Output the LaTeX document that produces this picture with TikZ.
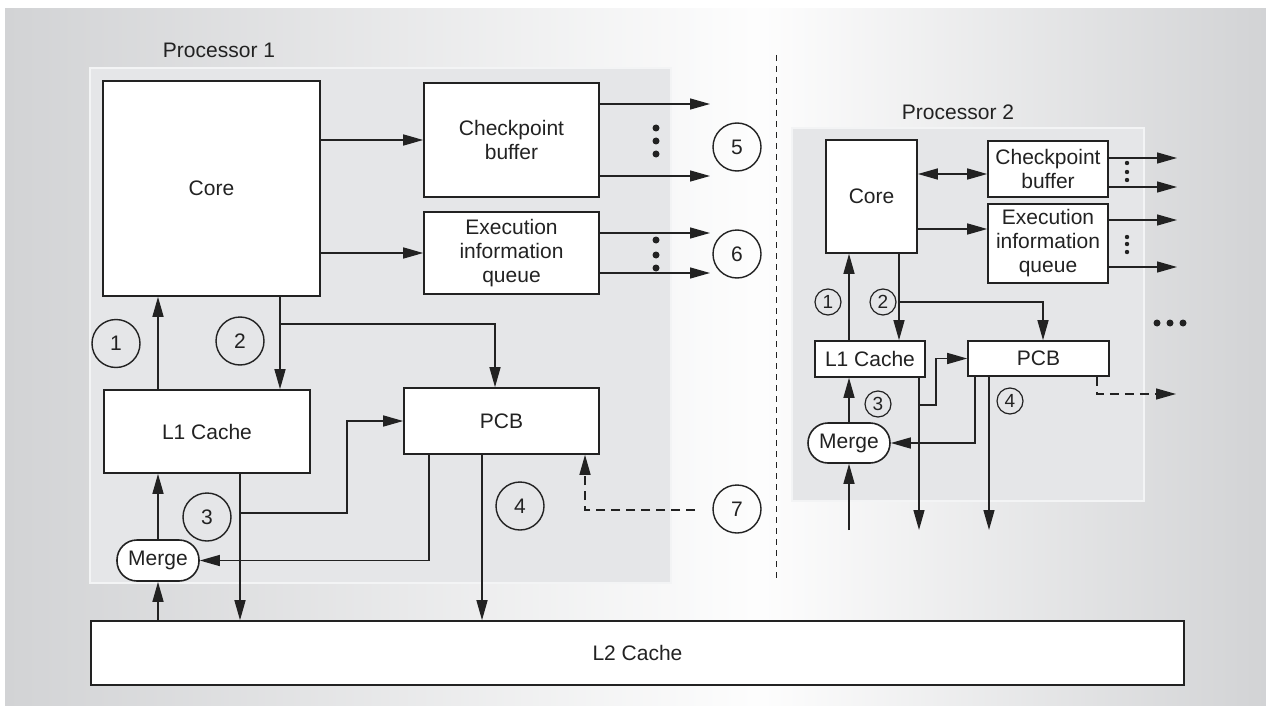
\documentclass[tikz,border=0pt]{standalone}
\usepackage{fontspec}
\setmainfont{Liberation Sans}
\usetikzlibrary{positioning,arrows.meta,calc}
\definecolor{BgGray}{HTML}{D2D3D5}
\definecolor{PanelGray}{HTML}{E5E6E8}
\definecolor{LineDark}{HTML}{222222}

\begin{document}
\begin{tikzpicture}[x=1pt,y=-1pt,
  every node/.style={font=\fontsize{21}{24}\selectfont, text=LineDark},
  blk/.style={draw=LineDark, fill=white, line width=1.6pt, inner sep=0pt, align=center},
  num/.style={circle, draw=LineDark, line width=1.4pt, minimum size=48pt, inner sep=0pt},
  smallnum/.style={circle, draw=LineDark, line width=1.2pt, minimum size=26pt, inner sep=0pt, font=\fontsize{19}{19}\selectfont},
  link/.style={draw=LineDark, line width=1.4pt, -{Triangle[length=20pt,width=11pt]}},
  linkboth/.style={link, {Triangle[length=20pt,width=11pt]}-{Triangle[length=20pt,width=11pt]}},
  dashlink/.style={link, dash pattern=on 9pt off 6pt},
  panel/.style={fill=PanelGray, draw=white!55!PanelGray, line width=1.5pt}]
  \useasboundingbox (0,0) rectangle (1266,706);
  \shade[left color=BgGray, right color=white!96!BgGray] (5,9) rectangle (760,706);
  \shade[left color=white!96!BgGray, right color=BgGray] (760,9) rectangle (1266,706);

  \draw[panel] (90,68) rectangle (671,583);
  \draw[panel] (792,128) rectangle (1144,501);
  \node (p1label) at (219,50) {Processor 1};
  \node (p2label) at (958,112) {Processor 2};
  \draw[LineDark, line width=1pt, dash pattern=on 6pt off 5pt] (776,55) -- (776,580);

  \node[blk, minimum width=217pt, minimum height=215pt] (core1) at (211.5,188.5) {Core};
  \node[blk, minimum width=175pt, minimum height=114pt] (cb1) at (511.5,140) {Checkpoint\\buffer};
  \node[blk, minimum width=175pt, minimum height=82pt] (eiq1) at (511.5,253) {Execution\\information\\queue};
  \node[blk, minimum width=206pt, minimum height=83pt] (lone1) at (207,431.5) {L1 Cache};
  \node[blk, minimum width=195pt, minimum height=66pt] (pcb1) at (501.5,421) {PCB};
  \node[blk, rounded corners=20pt, minimum width=82pt, minimum height=41pt] (merge1) at (158,560.5) {Merge};
  \node[blk, minimum width=1093pt, minimum height=64pt] (ltwo) at (637.5,653) {L2 Cache};

  \node[blk, minimum width=91pt, minimum height=113pt] (core2) at (871.5,196.5) {Core};
  \node[blk, minimum width=120pt, minimum height=56pt] (cb2) at (1048,169) {Checkpoint\\buffer};
  \node[blk, minimum width=120pt, minimum height=79pt] (eiq2) at (1048,243.5) {Execution\\information\\queue};
  \node[blk, minimum width=110pt, minimum height=36pt] (lone2) at (870,359) {L1 Cache};
  \node[blk, minimum width=141pt, minimum height=35pt] (pcb2) at (1038.5,358.5) {PCB};
  \node[blk, rounded corners=20pt, minimum width=82pt, minimum height=40pt] (merge2) at (849,443) {Merge};

  \foreach \n/\px/\py in {1/116/343.5, 2/240/341, 3/207/517, 4/520/506, 5/737/147, 6/737/254, 7/737/509}
    \node[num] (c\n) at (\px,\py) {\n};
  \foreach \n/\px/\py in {1/828/302, 2/883/302, 3/878/404, 4/1010/401}
    \node[smallnum] (d\n) at (\px,\py) {\n};

  \foreach \y [count=\i] in {104,176,233,273}
    \coordinate (out\i) at (710,\y);
  \foreach \y [count=\i] in {158,187,220,267}
    \coordinate (tout\i) at (1177,\y);
  \coordinate (dash7) at (695,510);
  \coordinate (split1) at (280,324);
  \coordinate (split3) at (240,513);
  \coordinate (split2) at (899,302);
  \coordinate (split4) at (919,405);
  \coordinate (down1) at (919,530);
  \coordinate (down2) at (989,530);
  \coordinate (upin) at (849,530);
  \coordinate (dashout) at (1176,394);

  \draw[link] (core1.east |- cb1.west) -- (cb1.west);
  \draw[link] (core1.east |- eiq1.west) -- (eiq1.west);
  \draw[link] (cb1.east |- out1) -- (out1);
  \draw[link] (cb1.east |- out2) -- (out2);
  \draw[link] (eiq1.east |- out3) -- (out3);
  \draw[link] (eiq1.east |- out4) -- (out4);
  \draw[link] (lone1.north -| merge1.north) -- (core1.south -| merge1.north);
  \draw[link] (core1.south -| split1) -- (lone1.north -| split1);
  \draw[link] (split1) -| (pcb1.north -| 495,0);
  \draw[link] (lone1.south -| split3) -- (ltwo.north -| split3);
  \draw[link] (split3) -- (347,513) |- (pcb1.west);
  \draw[link] (pcb1.south -| 429,0) |- (merge1.east);
  \draw[link] (pcb1.south -| 482,0) -- (ltwo.north -| 482,0);
  \draw[dashlink] (dash7) -| (pcb1.south -| 585,0);
  \draw[link] (merge1.north) -- (lone1.south -| merge1.north);
  \draw[link] (ltwo.north -| merge1.south) -- (merge1.south);
  \foreach \y in {128,141,154,240,255,268}
    \fill[LineDark] (656,\y) circle (3.5pt);

  \draw[linkboth] (core2.east |- 0,174) -- (cb2.west |- 0,174);
  \draw[link] (core2.east |- 0,229) -- (eiq2.west |- 0,229);
  \draw[link] (cb2.east |- tout1) -- (tout1);
  \draw[link] (cb2.east |- tout2) -- (tout2);
  \draw[link] (eiq2.east |- tout3) -- (tout3);
  \draw[link] (eiq2.east |- tout4) -- (tout4);
  \draw[link] (lone2.north -| upin) -- (core2.south -| upin);
  \draw[link] (core2.south -| split2) -- (lone2.north -| split2);
  \draw[link] (split2) -| (pcb2.north -| 1043,0);
  \draw[link] (lone2.south -| down1) -- (down1);
  \draw[link] (split4) -- (936,405) |- (pcb2.west);
  \draw[link] (pcb2.south -| 975,0) |- (merge2.east);
  \draw[link] (pcb2.south -| down2) -- (down2);
  \draw[dashlink] (pcb2.south -| 1097,0) |- (dashout);
  \draw[link] (merge2.north) -- (lone2.south -| merge2.north);
  \draw[link] (upin) -- (merge2.south);
  \foreach \y in {163,172,180,237,244,252}
    \fill[LineDark] (1127,\y) circle (2.2pt);
  \foreach \x in {1157,1170,1183}
    \fill[LineDark] (\x,323) circle (3.5pt);
\end{tikzpicture}
\end{document}
